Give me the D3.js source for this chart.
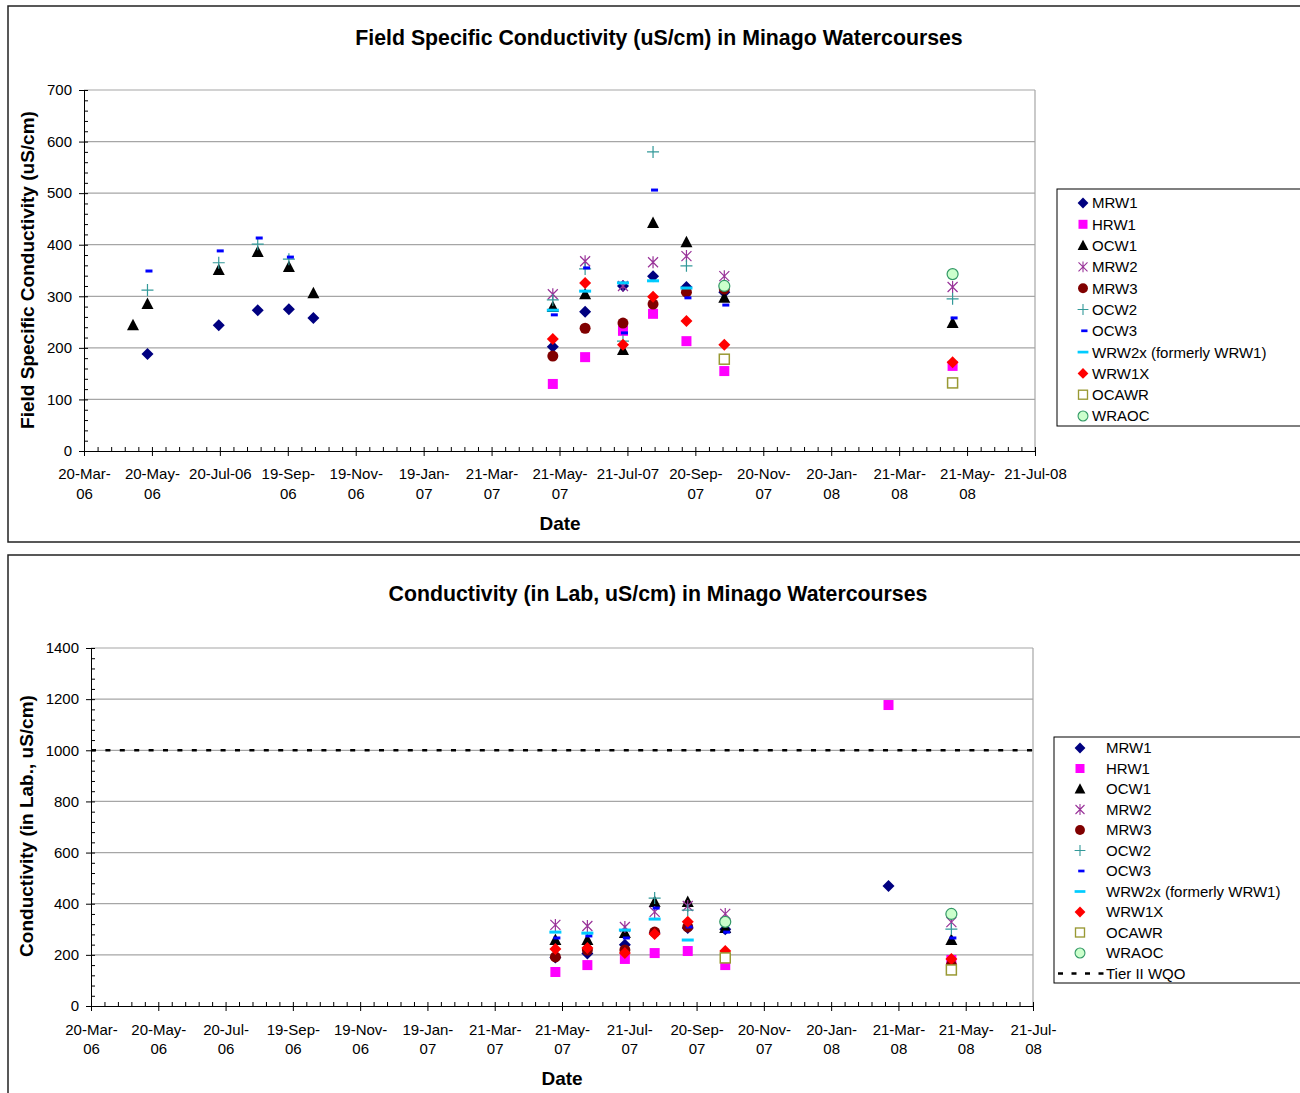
<!DOCTYPE html>
<html>
<head>
<meta charset="utf-8">
<script src="https://cdn.jsdelivr.net/npm/d3@7"></script>
<style>
  body { margin: 0; background: #fff; }
  svg { font-family: "Liberation Sans", Arial, sans-serif; }
  .title { font-weight: bold; font-size: 21.3px; }
  .axis-title { font-weight: bold; font-size: 19px; }
  .tick text { font-size: 15px; fill: #000; }
  .legend text { font-size: 15px; }
</style>
</head>
<body>
<svg width="1300" height="1093"></svg>
<script>
// ---- data ----
const seriesNames = ['MRW1', 'HRW1', 'OCW1', 'MRW2', 'MRW3', 'OCW2', 'OCW3', 'WRW2x (formerly WRW1)', 'WRW1X', 'OCAWR', 'WRAOC'];

const fieldDates = ['2006-05-03', '2006-05-16', '2006-07-19', '2006-08-23', '2006-09-20', '2006-10-12',
  '2007-05-15', '2007-06-13', '2007-07-17', '2007-08-13', '2007-09-12', '2007-10-16', '2008-05-08'];
const fieldMRW1  = [null, 188, 244, 273, 275, 258, 202, 270, 320, 339, 318, 308, null];
const fieldHRW1  = [null, null, null, null, null, null, 130, 182, 233, 266, 213, 155, 165];
const fieldOCW1  = [244, 285, 351, 386, 357, 306, 279, 304, 196, 442, 405, 297, 248];
const fieldMRW2  = [null, null, null, null, null, null, 304, 368, 320, 366, 378, 339, 318];
const fieldMRW3  = [null, null, null, null, null, null, 184, 238, 248, 285, 308, 314, null];
const fieldOCW2  = [null, 312, 365, 401, 372, null, 293, 353, 213, 580, 359, null, 295];
const fieldOCW3  = [null, 349, 388, 413, 376, null, 264, 355, 229, 506, 297, 283, 258];
const fieldWRW2x = [null, null, null, null, null, null, 273, 310, 326, 330, 316, null, null];
const fieldWRW1X = [null, null, null, null, null, null, 217, 326, 206, 299, 252, 206, 172];
const fieldOCAWR = [null, null, null, null, null, null, null, null, null, null, null, 178, 132];
const fieldWRAOC = [null, null, null, null, null, null, null, null, null, null, null, 320, 343];

const labDates = ['2007-05-15', '2007-06-13', '2007-07-17', '2007-08-13', '2007-09-12', '2007-10-16', '2008-03-12', '2008-05-08'];
const labMRW1  = [190, 205, 240, 285, 305, 300, 469, null];
const labHRW1  = [133, 160, 184, 207, 215, 160, 1177, 180];
const labOCW1  = [258, 258, 285, 407, 407, 305, null, 258];
const labMRW2  = [317, 313, 309, 368, 391, 360, null, 328];
const labMRW3  = [192, 219, 219, 289, 309, null, null, 160];
const labOCW2  = [null, null, null, 422, 375, null, null, 301];
const labOCW3  = [266, 274, 266, 383, 309, 289, null, 266];
const labWRW2x = [289, 285, 297, 340, 258, null, null, null];
const labWRW1X = [223, 227, 207, 282, 329, 215, null, 184];
const labOCAWR = [null, null, null, null, null, 188, null, 141];
const labWRAOC = [null, null, null, null, null, 329, null, 360];
const tierIIWQO = 1000;

const fieldTickLabels = ['20-Mar-\n06', '20-May-\n06', '20-Jul-06', '19-Sep-\n06', '19-Nov-\n06', '19-Jan-\n07', '21-Mar-\n07',
  '21-May-\n07', '21-Jul-07', '20-Sep-\n07', '20-Nov-\n07', '20-Jan-\n08', '21-Mar-\n08', '21-May-\n08', '21-Jul-08'];
const labTickLabels = ['20-Mar-\n06', '20-May-\n06', '20-Jul-\n06', '19-Sep-\n06', '19-Nov-\n06', '19-Jan-\n07', '21-Mar-\n07',
  '21-May-\n07', '21-Jul-\n07', '20-Sep-\n07', '20-Nov-\n07', '20-Jan-\n08', '21-Mar-\n08', '21-May-\n08', '21-Jul-\n08'];

// marker styles, in series order
const markerTypes = ['diamond', 'square', 'triangle', 'asterisk', 'circle', 'plus', 'dash', 'longdash', 'diamond', 'opensquare', 'opencircle'];
const markerColors = ['#000080', '#ff00ff', '#000000', '#993399', '#800000', '#339999', '#0000ff', '#00ccff', '#ff0000', '#999933', '#339966'];

const svg = d3.select('svg');
const parse = d3.utcParse('%Y-%m-%d');
const xStart = parse('2006-03-20');
const xEnd = parse('2008-07-21');

function drawMarker(g, type, color) {
  if (type === 'diamond') g.append('path').attr('d', 'M0,-6L6,0L0,6L-6,0Z').attr('fill', color);
  else if (type === 'square') g.append('rect').attr('x', -5).attr('y', -5).attr('width', 10).attr('height', 10).attr('fill', color);
  else if (type === 'triangle') g.append('path').attr('d', 'M0,-6.5L6,5L-6,5Z').attr('fill', color);
  else if (type === 'asterisk') g.append('path').attr('d', 'M-5,-5L5,5M-5,5L5,-5M0,-6V6').attr('stroke', color).attr('stroke-width', 1.2).attr('fill', 'none');
  else if (type === 'circle') g.append('circle').attr('r', 5.5).attr('fill', color);
  else if (type === 'plus') g.append('path').attr('d', 'M-6,0H6M0,-6V6').attr('stroke', color).attr('stroke-width', 1.2);
  else if (type === 'dash') g.append('rect').attr('x', -2).attr('y', -1.5).attr('width', 7).attr('height', 3).attr('fill', color);
  else if (type === 'longdash') g.append('rect').attr('x', -6).attr('y', -1.5).attr('width', 12).attr('height', 3).attr('fill', color);
  else if (type === 'opensquare') g.append('rect').attr('x', -5).attr('y', -5).attr('width', 10).attr('height', 10).attr('fill', '#fff').attr('stroke', color).attr('stroke-width', 1.5);
  else if (type === 'opencircle') g.append('circle').attr('r', 5.5).attr('fill', '#ccffcc').attr('stroke', color).attr('stroke-width', 1.2);
}

const render = cfg => {
  const { left, right, top, bottom, yMax, yStep, yMinor, dates, values, tickLabels, labelY1, labelY2 } = cfg;

  const xScale = d3.scaleUtc().domain([xStart, xEnd]).range([left, right]);
  const yScale = d3.scaleLinear().domain([0, yMax]).range([bottom, top]);

  const majorX = d3.range(0, 15).map(i => d3.utcDay.offset(xStart, i * 61));
  const minorX = d3.range(0, 71).map(i => new Date(+xStart + i * 61 / 5 * 864e5));
  const majorY = d3.range(0, yMax + 1, yStep);
  const minorY = d3.range(0, yMax + 1, yMinor);

  // gridlines + plot border
  svg.append('g').selectAll('line').data(majorY.slice(1)).enter().append('line')
    .attr('x1', left).attr('x2', right)
    .attr('y1', d => yScale(d)).attr('y2', d => yScale(d))
    .attr('stroke', '#a6a6a6').attr('stroke-width', 1.2);
  svg.append('line').attr('x1', right).attr('x2', right).attr('y1', top).attr('y2', bottom)
    .attr('stroke', '#a6a6a6').attr('stroke-width', 1.2);

  // y axis
  const yAxisG = svg.append('g').attr('transform', `translate(${left},0)`)
    .call(d3.axisLeft(yScale).tickValues(majorY).tickSize(5).tickPadding(7).tickFormat(d3.format('d')));
  yAxisG.select('.domain').remove();
  svg.append('g').attr('transform', `translate(${left},0)`)
    .call(d3.axisRight(yScale).tickValues(minorY).tickSize(4).tickFormat(''))
    .select('.domain').attr('stroke', '#000');

  // x axis
  const xAxisG = svg.append('g').attr('transform', `translate(0,${bottom})`)
    .call(d3.axisBottom(xScale).tickValues(majorX).tickSize(5).tickFormat((d, i) => tickLabels[i]));
  xAxisG.select('.domain').remove();
  xAxisG.selectAll('.tick text').each(function(d, i) {
    const t = d3.select(this);
    const lines = tickLabels[i].split('\n');
    t.text('').attr('y', 0).attr('dy', null);
    lines.forEach((ln, k) => t.append('tspan').attr('x', 0).attr('y', k === 0 ? labelY1 : labelY2).text(ln));
  });
  svg.append('g').attr('transform', `translate(0,${bottom})`)
    .call(d3.axisTop(xScale).tickValues(minorX).tickSize(4).tickFormat(''))
    .select('.domain').attr('stroke', '#000');

  svg.selectAll('.tick line').attr('stroke', '#000');

  if (cfg.wqo) {
    svg.append('line').attr('x1', left).attr('x2', right)
      .attr('y1', yScale(cfg.wqo)).attr('y2', yScale(cfg.wqo))
      .attr('stroke', '#000').attr('stroke-width', 2.5).attr('stroke-dasharray', '5,9.4');
  }

  // points, series in order so later ones sit on top
  values.forEach((vals, si) => {
    const pts = dates.map((d, i) => ({ date: parse(d), v: vals[i] })).filter(p => p.v !== null);
    const g = svg.append('g');
    pts.forEach(p => {
      const m = g.append('g').attr('transform', `translate(${xScale(p.date)},${yScale(p.v)})`);
      drawMarker(m, markerTypes[si], markerColors[si]);
    });
  });

  svg.append('text').attr('class', 'title').attr('x', cfg.titleX).attr('y', cfg.titleY)
    .attr('text-anchor', 'middle').text(cfg.title);
  svg.append('text').attr('class', 'axis-title')
    .attr('transform', `translate(${cfg.yTitleX},${cfg.yTitleY}) rotate(-90)`)
    .attr('text-anchor', 'middle').text(cfg.yTitle);
  svg.append('text').attr('class', 'axis-title').attr('x', cfg.dateX).attr('y', cfg.dateY)
    .attr('text-anchor', 'middle').text('Date');

  // legend
  const lg = cfg.legend;
  const legend = svg.append('g').attr('class', 'legend');
  legend.append('rect').attr('x', lg.x).attr('y', lg.y).attr('width', 260).attr('height', lg.h)
    .attr('fill', '#fff').attr('stroke', '#000').attr('stroke-width', 1);
  seriesNames.forEach((name, i) => {
    const yy = lg.y0 + i * lg.step;
    const m = legend.append('g').attr('transform', `translate(${lg.mx},${yy}) scale(0.9)`);
    drawMarker(m, markerTypes[i], markerColors[i]);
    legend.append('text').attr('x', lg.tx).attr('y', yy).attr('dy', '0.36em').text(name);
  });
  if (cfg.wqo) {
    const yy = lg.y0 + seriesNames.length * lg.step;
    legend.append('line').attr('x1', lg.x + 4).attr('x2', lg.tx - 2).attr('y1', yy).attr('y2', yy)
      .attr('stroke', '#000').attr('stroke-width', 2.5).attr('stroke-dasharray', '5,8.5');
    legend.append('text').attr('x', lg.tx).attr('y', yy).attr('dy', '0.36em').text('Tier II WQO');
  }
};

// chart frames
const frame = svg.append('g').attr('stroke', '#222').attr('stroke-width', 1.5).attr('fill', 'none');
frame.append('path').attr('d', 'M1300,6H8V542H1300');
frame.append('path').attr('d', 'M1300,555H8V1093');

render({
  left: 84, right: 1035, top: 90, bottom: 451, yMax: 700, yStep: 100, yMinor: 20,
  dates: fieldDates,
  values: [fieldMRW1, fieldHRW1, fieldOCW1, fieldMRW2, fieldMRW3, fieldOCW2, fieldOCW3, fieldWRW2x, fieldWRW1X, fieldOCAWR, fieldWRAOC],
  tickLabels: fieldTickLabels, labelY1: 28, labelY2: 48,
  title: 'Field Specific Conductivity (uS/cm) in Minago Watercourses', titleX: 659, titleY: 45,
  yTitle: 'Field Specific Conductivity (uS/cm)', yTitleX: 34, yTitleY: 270, dateX: 560, dateY: 530,
  legend: { x: 1057, y: 189, h: 237, y0: 203, step: 21.3, mx: 1083, tx: 1092 }
});

render({
  left: 91, right: 1033, top: 648, bottom: 1006, yMax: 1400, yStep: 200, yMinor: 40,
  dates: labDates,
  values: [labMRW1, labHRW1, labOCW1, labMRW2, labMRW3, labOCW2, labOCW3, labWRW2x, labWRW1X, labOCAWR, labWRAOC],
  tickLabels: labTickLabels, labelY1: 29, labelY2: 48, wqo: tierIIWQO,
  title: 'Conductivity (in Lab, uS/cm) in Minago Watercourses', titleX: 658, titleY: 601,
  yTitle: 'Conductivity (in Lab., uS/cm)', yTitleX: 33, yTitleY: 826, dateX: 562, dateY: 1085,
  legend: { x: 1054, y: 737, h: 246, y0: 748, step: 20.5, mx: 1080, tx: 1106 }
});
</script>
</body>
</html>
